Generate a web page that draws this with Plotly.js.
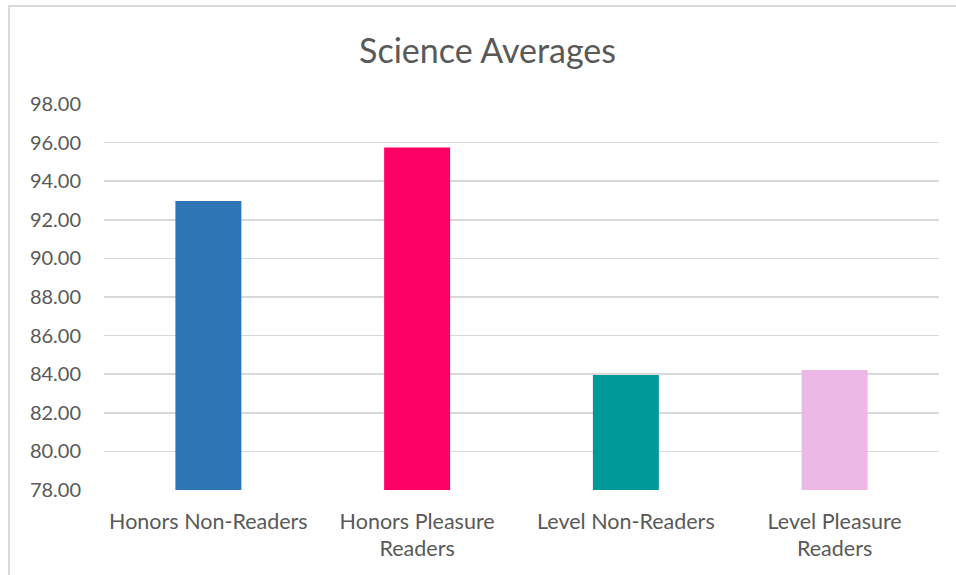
<!DOCTYPE html>
<html>
<head>
<meta charset="utf-8">
<script src="https://cdn.plot.ly/plotly-3.0.1.min.js"></script>
<style>
  html, body { margin: 0; padding: 0; background: #fff; }
  #wrap { position: relative; width: 956px; height: 575px; }
  #chart { position: absolute; left: 0; top: 0; width: 956px; height: 575px; }
  #frame { position: absolute; left: 8px; top: 5px; width: 948px; height: 570px;
           border-left: 2px solid #d9d9d9; border-top: 2px solid #d9d9d9; pointer-events: none; }
</style>
</head>
<body>
<div id="wrap">
  <div id="chart"></div>
  <div id="frame"></div>
</div>
<script>
const categories = ["Honors Non-Readers", "Honors Pleasure<br>Readers", "Level Non-Readers", "Level Pleasure<br>Readers"];
const values = [92.98, 95.74, 83.96, 84.22];
const colors = ["#2E75B6", "#FF0066", "#009999", "#ECB8E6"];
const yTicks = [78, 80, 82, 84, 86, 88, 90, 92, 94, 96, 98];
const yTickLabels = ["78.00", "80.00", "82.00", "84.00", "86.00", "88.00", "90.00", "92.00", "94.00", "96.00", "98.00"];

const fontFam = "Lato, 'Open Sans', sans-serif";
Plotly.newPlot("chart", [{
  type: "bar",
  x: categories,
  y: values,
  marker: { color: colors },
  hoverinfo: "none"
}], {
  width: 956, height: 575,
  margin: { l: 103.5, r: 16.5, t: 104, b: 85 },
  paper_bgcolor: "#fff", plot_bgcolor: "#fff",
  bargap: 0.684,
  showlegend: false,
  title: { text: "Science Averages", x: 0.51, xanchor: "center", y: 0.912, yanchor: "middle",
           font: { family: fontFam, size: 34, color: "#595959" } },
  xaxis: { tickfont: { family: fontFam, size: 21.5, color: "#595959" }, showgrid: false,
           showline: false, ticks: "", zeroline: false, ticklabelstandoff: 16 },
  yaxis: { range: [78, 98], tickvals: yTicks, ticktext: yTickLabels,
           tickfont: { family: fontFam, size: 20, color: "#595959" },
           showgrid: true, gridcolor: "#d9d9d9", gridwidth: 1.5, zeroline: false,
           showline: false, ticks: "", ticklabelstandoff: 22 }
}, { displayModeBar: false, staticPlot: true });
</script>
</body>
</html>
